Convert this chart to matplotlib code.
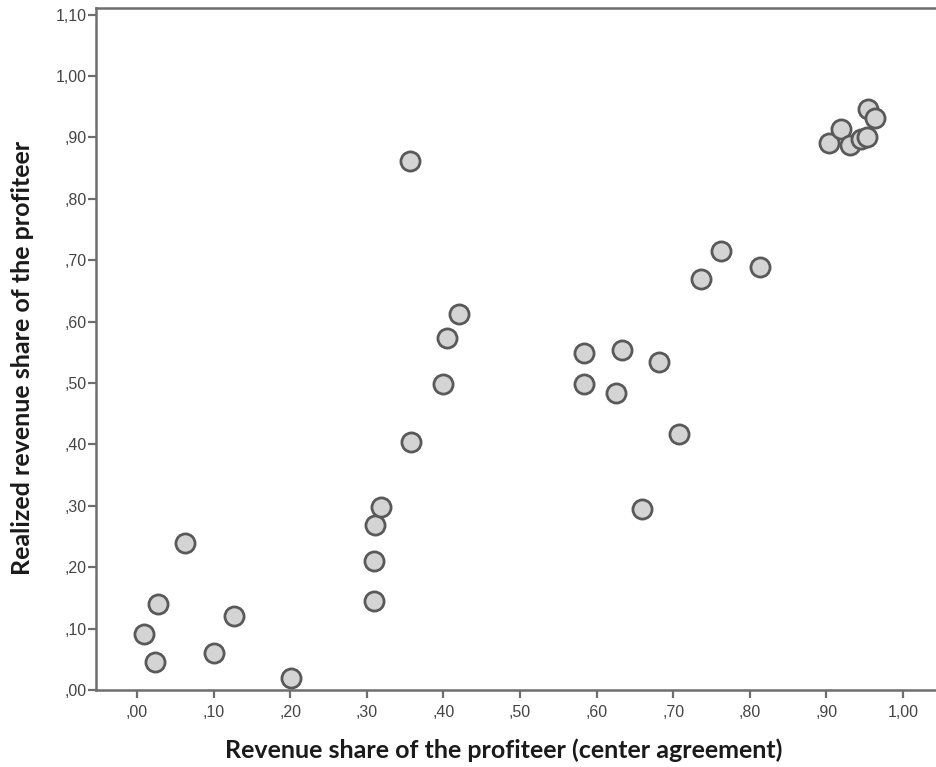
import matplotlib.pyplot as plt
from matplotlib.ticker import FuncFormatter

# Revenue shares per observation: agreed (center agreement) vs. realized
agreed_share = [
    0.009, 0.024, 0.027, 0.063, 0.101, 0.126, 0.201,
    0.310, 0.310, 0.311, 0.319,
    0.356, 0.358, 0.399, 0.405, 0.420,
    0.584, 0.584, 0.625, 0.633, 0.659, 0.681, 0.708,
    0.737, 0.762, 0.813,
    0.903, 0.919, 0.931, 0.945, 0.953, 0.955, 0.964,
]
realized_share = [
    0.091, 0.045, 0.140, 0.239, 0.060, 0.120, 0.019,
    0.145, 0.210, 0.268, 0.298,
    0.862, 0.404, 0.498, 0.574, 0.612,
    0.549, 0.498, 0.484, 0.554, 0.295, 0.534, 0.417,
    0.669, 0.715, 0.689,
    0.890, 0.913, 0.887, 0.897, 0.900, 0.946, 0.931,
]

x_ticks = [0.0, 0.1, 0.2, 0.3, 0.4, 0.5, 0.6, 0.7, 0.8, 0.9, 1.0]
y_ticks = [0.0, 0.1, 0.2, 0.3, 0.4, 0.5, 0.6, 0.7, 0.8, 0.9, 1.0, 1.1]


def comma_fmt(v, _pos):
    # SPSS style decimals: ",50" and "1,00"
    s = f"{v:.2f}".replace(".", ",")
    return s[1:] if s.startswith("0") else s


axis_col = "#6e6e6e"

fig = plt.figure(figsize=(9.37, 7.67), dpi=100)
ax = fig.add_axes([0.1025, 0.1004, 0.8975, 0.8892])

ax.scatter(agreed_share, realized_share, s=190, facecolor="#d4d4d4",
           edgecolor="#595959", linewidths=2.0, zorder=3)

ax.set_xlim(-0.0535, 1.0445)
ax.set_ylim(0.0, 1.1107)
ax.set_xticks(x_ticks)
ax.set_yticks(y_ticks)
ax.xaxis.set_major_formatter(FuncFormatter(comma_fmt))
ax.yaxis.set_major_formatter(FuncFormatter(comma_fmt))

for side in ("left", "bottom", "top"):
    ax.spines[side].set_color(axis_col)
    ax.spines[side].set_linewidth(1.8)
ax.spines["right"].set_visible(False)

ax.tick_params(axis="both", direction="out", length=6, width=1.6,
               color=axis_col, labelcolor="#444444", labelsize=11.5)
ax.tick_params(axis="y", pad=1)
ax.tick_params(axis="x", pad=5)
for lbl in ax.get_xticklabels() + ax.get_yticklabels():
    lbl.set_family("Liberation Sans")

ax.set_xlabel("Revenue share of the profiteer (center agreement)",
              family="Lato", fontweight="bold", fontsize=18, color="#1a1a1a",
              va="center")
ax.set_ylabel("Realized revenue share of the profiteer",
              family="Lato", fontweight="bold", fontsize=18, color="#1a1a1a",
              va="center")
ax.xaxis.set_label_coords(0.485, -0.088)
ax.yaxis.set_label_coords(-0.088, 0.487)

fig.savefig("out.png", dpi=100)
